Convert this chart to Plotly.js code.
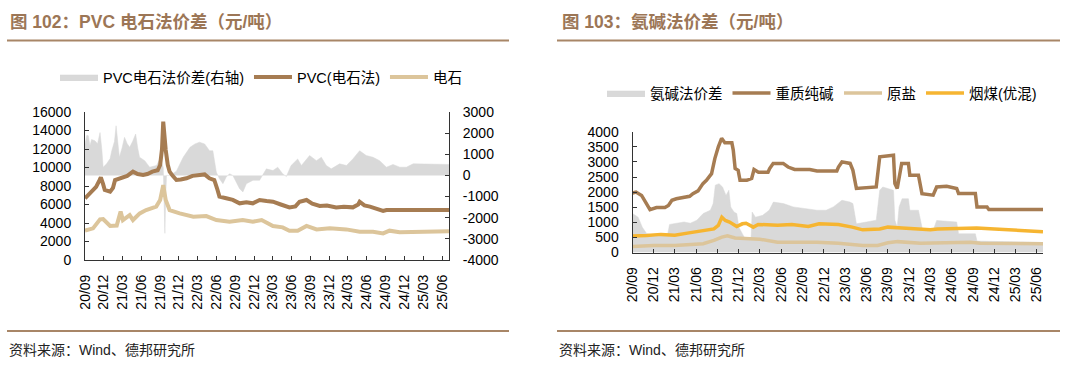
<!DOCTYPE html>
<html><head><meta charset="utf-8">
<script src="https://cdn.plot.ly/plotly-3.0.1.min.js"></script>
<style>html,body{margin:0;padding:0;background:#fff}#chart{width:1080px;height:377px}</style>
</head><body><div id="chart"></div>
<script>
// ---------- Figure 102 data ----------
const spreadDates = ['2020-09-01','2020-09-10','2020-09-17','2020-09-25','2020-10-03','2020-10-19','2020-11-01','2020-11-13','2020-11-22','2020-11-28','2020-12-15','2021-01-01','2021-01-09','2021-01-22','2021-01-30','2021-02-08','2021-02-15','2021-02-28','2021-03-12','2021-03-25','2021-04-06','2021-04-20','2021-05-05','2021-05-15','2021-05-24','2021-06-18','2021-07-12','2021-08-14','2021-08-31','2021-09-16','2021-09-20','2021-09-24','2021-09-28','2021-10-02','2021-10-18','2021-11-19','2021-12-22','2022-01-24','2022-02-17','2022-03-11','2022-04-05','2022-04-29','2022-05-15','2022-06-01','2022-06-16','2022-07-03','2022-07-19','2022-08-04','2022-08-20','2022-09-06','2022-09-22','2022-10-08','2022-10-25','2022-11-26','2022-12-28','2023-01-30','2023-03-03','2023-03-26','2023-04-19','2023-05-07','2023-05-30','2023-07-01','2023-07-19','2023-08-28','2023-09-30','2023-10-24','2023-11-17','2023-12-11','2024-01-21','2024-02-23','2024-03-25','2024-04-27','2024-05-29','2024-07-01','2024-08-02','2024-09-04','2024-10-06','2024-11-08','2024-12-10','2025-01-12','2025-07-05'];
const spreadValues = [1490,1900,1880,1400,1700,1640,1500,2030,1200,390,550,800,1170,1600,2350,1500,860,1300,1800,1500,1330,1600,1960,1300,860,700,390,470,780,390,-1500,-2740,-1000,0,0,200,860,1330,1490,1570,1490,1170,1170,150,-160,-390,-80,80,0,-310,-630,-780,-390,-230,-230,310,230,390,80,-50,470,780,470,940,700,860,470,310,550,470,780,1170,940,860,700,390,520,390,390,550,520];

const pvcDates = ['2020-09-01','2020-09-20','2020-10-10','2020-10-25','2020-11-10','2020-11-17','2020-11-28','2020-12-06','2021-01-01','2021-01-15','2021-01-25','2021-02-10','2021-03-04','2021-03-25','2021-04-22','2021-05-15','2021-06-10','2021-07-01','2021-07-25','2021-08-20','2021-09-01','2021-09-10','2021-09-16','2021-09-22','2021-09-28','2021-10-08','2021-10-17','2021-11-01','2021-11-19','2021-12-10','2022-01-07','2022-02-05','2022-03-10','2022-04-05','2022-04-28','2022-05-22','2022-06-05','2022-06-16','2022-07-19','2022-08-20','2022-09-22','2022-10-25','2022-11-25','2022-12-28','2023-01-31','2023-03-03','2023-04-10','2023-05-22','2023-06-20','2023-07-10','2023-08-13','2023-09-10','2023-10-16','2023-11-20','2024-01-04','2024-02-10','2024-03-25','2024-04-20','2024-04-27','2024-05-20','2024-06-16','2024-07-20','2024-08-19','2024-09-04','2025-07-05'];
const pvcValues = [6670,7100,7570,7900,8600,8940,8200,7570,7390,7800,8650,8800,9000,9100,9550,9300,9190,9300,9550,9700,10270,12000,14950,12800,11900,10300,9550,9100,8650,8700,8830,9100,9190,9250,8830,8650,7700,6850,6670,6500,6130,6250,6130,6490,6380,6300,6000,5690,5800,6300,6490,6100,5840,5900,5690,5750,5690,6000,6300,5900,5770,5550,5300,5400,5400];

const carbideDates = ['2020-09-01','2020-10-10','2020-11-13','2020-11-28','2021-01-01','2021-02-02','2021-02-21','2021-03-04','2021-04-06','2021-04-22','2021-05-25','2021-06-25','2021-08-13','2021-09-01','2021-09-16','2021-09-28','2021-10-17','2021-12-05','2022-02-09','2022-04-13','2022-06-01','2022-08-04','2022-10-07','2022-11-25','2023-01-07','2023-02-07','2023-03-03','2023-04-19','2023-05-22','2023-07-01','2023-08-13','2023-10-01','2023-12-04','2024-02-22','2024-04-27','2024-07-01','2024-08-19','2024-09-19','2024-11-07','2025-07-05'];
const carbideValues = [3170,3420,4400,4430,3680,3720,5230,4320,4860,4320,5040,5400,5770,6490,8100,6490,5400,5040,4680,4750,4320,4140,4320,4140,4320,3890,3680,3530,3170,3170,3680,3310,3420,3310,3060,3060,2880,3170,3000,3100];

// ---------- Figure 103 data ----------
const ammoniaSpreadDates = ['2020-09-01','2020-09-25','2020-10-13','2020-11-01','2020-12-16','2021-01-28','2021-02-07','2021-04-10','2021-05-07','2021-06-04','2021-07-01','2021-08-01','2021-08-13','2021-08-22','2021-09-07','2021-09-22','2021-10-07','2021-10-19','2021-10-27','2021-11-10','2021-11-22','2021-12-01','2021-12-28','2022-01-22','2022-01-27','2022-02-10','2022-03-13','2022-04-10','2022-04-28','2022-06-10','2022-07-22','2022-10-01','2022-11-01','2022-12-10','2023-01-10','2023-02-16','2023-03-22','2023-04-04','2023-04-19','2023-06-01','2023-07-13','2023-07-28','2023-08-10','2023-09-25','2023-10-01','2023-10-11','2023-10-19','2023-11-01','2023-11-28','2023-12-04','2024-01-10','2024-01-28','2024-03-13','2024-03-28','2024-06-22','2024-06-30','2024-09-10','2024-09-17','2025-06-27'];
const ammoniaSpreadValues = [1290,1170,840,620,550,550,930,1010,970,1070,1290,1400,1620,2230,2280,2170,1890,2060,1510,1340,1290,840,450,420,1340,1170,1230,1400,1670,1620,1510,1450,1400,1400,1510,1730,1670,1620,950,1010,1070,2060,2170,2060,1070,840,1510,1780,1780,1400,1400,730,730,1060,1010,620,620,380,330];

const sodaAshDates = ['2020-09-01','2020-09-16','2020-10-10','2020-11-01','2020-11-15','2020-12-13','2021-01-18','2021-02-02','2021-02-17','2021-03-08','2021-04-20','2021-05-04','2021-05-18','2021-06-09','2021-06-30','2021-07-15','2021-08-06','2021-08-20','2021-09-04','2021-09-18','2021-10-02','2021-11-01','2021-11-07','2021-11-15','2021-11-28','2021-12-06','2022-01-04','2022-01-25','2022-02-04','2022-02-23','2022-04-05','2022-04-12','2022-04-27','2022-06-09','2022-06-30','2022-07-28','2022-10-01','2022-11-01','2023-01-25','2023-02-01','2023-02-16','2023-03-23','2023-04-04','2023-04-19','2023-07-13','2023-07-28','2023-09-25','2023-10-01','2023-10-11','2023-10-30','2023-11-28','2023-12-04','2024-01-10','2024-01-25','2024-03-13','2024-03-28','2024-05-10','2024-06-22','2024-06-30','2024-09-10','2024-09-17','2024-10-30','2024-11-07','2025-06-27'];
const sodaAshValues = [1970,2000,1890,1620,1420,1490,1490,1560,1730,1780,1860,1860,1950,2040,2280,2390,2610,3110,3500,3780,3630,3630,3390,2780,2720,2390,2390,2450,2750,2660,2660,2780,2950,2950,2830,2750,2750,2700,2700,2830,3000,2950,2720,2120,2170,3170,3220,2280,2120,2950,2950,2560,2560,1950,1900,2170,2190,2120,1950,1950,1510,1510,1420,1420];

const saltDates = ['2020-09-01','2020-12-01','2021-03-01','2021-07-01','2021-08-16','2021-09-19','2021-10-13','2021-11-15','2022-03-01','2022-05-16','2022-11-01','2023-02-01','2023-05-16','2023-07-19','2023-09-01','2023-10-13','2024-01-19','2024-08-19','2024-10-01','2025-06-27'];
const saltValues = [200,230,230,290,400,510,550,480,440,340,340,310,230,230,320,360,310,340,310,290];

const coalDates = ['2020-09-01','2020-11-01','2021-01-01','2021-03-01','2021-05-01','2021-07-01','2021-08-16','2021-09-04','2021-09-19','2021-10-04','2021-10-22','2021-11-22','2021-12-16','2022-01-01','2022-02-01','2022-02-22','2022-05-16','2022-07-16','2022-09-25','2022-11-10','2023-02-01','2023-04-01','2023-05-16','2023-07-28','2023-09-01','2023-11-01','2024-03-01','2024-04-01','2024-09-16','2024-12-01','2025-06-27'];
const coalValues = [550,560,600,570,650,710,780,900,1170,1060,1010,860,950,970,840,930,900,930,860,950,930,840,750,780,840,810,750,780,810,780,690];

const leftTickVals = [0,2000,4000,6000,8000,10000,12000,14000,16000];
const rightTickVals = [-4000,-3000,-2000,-1000,0,1000,2000,3000];
const rightTickText = ['-4000','-3000','-2000','-1000','0','1000','2000','3000'];

// ---------- layout helpers ----------
const W = 1080, H = 377;
const px = x => x / W;
const py = y => 1 - y / H;
const FONT = 'Liberation Sans, Arial, Noto Sans CJK SC, sans-serif';
const BROWN = '#a67c52', TAN = '#dcc59b', YELLOW = '#f6b531', GRAY = '#d9d9d9';
const RULE = '#a88667', AXC = '#333333';

const baseAxis = {
  showline: true, linecolor: AXC, linewidth: 1, ticks: 'inside', ticklen: 4,
  tickcolor: AXC, showgrid: false, zeroline: false, tickfont: {size: 14, color: '#000'},
  tickformat: 'd', exponentformat: 'none'
};
const dateAxis = Object.assign({}, baseAxis, {
  type: 'date', dtick: 'M3', tick0: '2020-09-01', tickformat: '%y/%m', tickangle: -90,
  ticklabelstandoff: 8
});

const traces = [
  {x: spreadDates, y: spreadValues, type: 'scatter', mode: 'lines', fill: 'tozeroy',
   fillcolor: GRAY, line: {color: GRAY, width: 0.5}, name: 'PVC电石法价差(右轴)',
   xaxis: 'x', yaxis: 'y', legend: 'legend'},
  {x: pvcDates, y: pvcValues, type: 'scatter', mode: 'lines', line: {color: BROWN, width: 4},
   name: 'PVC(电石法)', xaxis: 'x', yaxis: 'y2', legend: 'legend'},
  {x: carbideDates, y: carbideValues, type: 'scatter', mode: 'lines', line: {color: TAN, width: 4},
   name: '电石', xaxis: 'x', yaxis: 'y2', legend: 'legend'},

  {x: ammoniaSpreadDates, y: ammoniaSpreadValues, type: 'scatter', mode: 'lines', fill: 'tozeroy',
   fillcolor: GRAY, line: {color: GRAY, width: 0.5}, name: '氨碱法价差',
   xaxis: 'x2', yaxis: 'y3', legend: 'legend2'},
  {x: sodaAshDates, y: sodaAshValues, type: 'scatter', mode: 'lines', line: {color: BROWN, width: 3.5},
   name: '重质纯碱', xaxis: 'x2', yaxis: 'y3', legend: 'legend2'},
  {x: saltDates, y: saltValues, type: 'scatter', mode: 'lines', line: {color: TAN, width: 3.5},
   name: '原盐', xaxis: 'x2', yaxis: 'y3', legend: 'legend2'},
  {x: coalDates, y: coalValues, type: 'scatter', mode: 'lines', line: {color: YELLOW, width: 3.5},
   name: '烟煤(优混)', xaxis: 'x2', yaxis: 'y3', legend: 'legend2'}
];

const legendBase = {orientation: 'h', xanchor: 'left', yanchor: 'middle', itemwidth: 38,
  font: {size: 14.5, color: '#000'}, bgcolor: 'rgba(0,0,0,0)', traceorder: 'normal'};

const layout = {
  width: W, height: H, margin: {l: 0, r: 0, t: 0, b: 0},
  paper_bgcolor: '#fff', plot_bgcolor: 'rgba(0,0,0,0)',
  font: {family: FONT, size: 14, color: '#000'},
  showlegend: true, hovermode: false,
  xaxis: Object.assign({}, dateAxis, {domain: [px(85), px(449)], anchor: 'y',
    range: ['2020-09-01', '2025-07-05']}),
  yaxis: Object.assign({}, baseAxis, {domain: [py(260), py(112)], anchor: 'x', side: 'right',
    range: [-4000, 3000], tickmode: 'array', tickvals: rightTickVals, ticktext: rightTickText,
    ticklabelstandoff: 10}),
  yaxis2: Object.assign({}, baseAxis, {overlaying: 'y', anchor: 'x', side: 'left',
    range: [0, 16000], tickmode: 'array', tickvals: leftTickVals, ticklabelstandoff: 10}),
  xaxis2: Object.assign({}, dateAxis, {domain: [px(632.5), px(1043)], anchor: 'y3',
    range: ['2020-09-01', '2025-06-27']}),
  yaxis3: Object.assign({}, baseAxis, {domain: [py(252.5), py(131.7)], anchor: 'x2',
    range: [0, 4000], dtick: 500, ticklabelstandoff: 10}),
  legend: Object.assign({}, legendBase, {x: px(55), y: py(77)}),
  legend2: Object.assign({}, legendBase, {x: px(602), y: py(93)}),
  shapes: [
    {type: 'line', xref: 'paper', yref: 'paper', x0: px(7), x1: px(509), y0: py(40.5), y1: py(40.5), line: {color: RULE, width: 2}},
    {type: 'line', xref: 'paper', yref: 'paper', x0: px(557), x1: px(1060), y0: py(40.5), y1: py(40.5), line: {color: RULE, width: 2}},
    {type: 'line', xref: 'paper', yref: 'paper', x0: px(7), x1: px(509), y0: py(331), y1: py(331), line: {color: RULE, width: 2}},
    {type: 'line', xref: 'paper', yref: 'paper', x0: px(557), x1: px(1060), y0: py(331), y1: py(331), line: {color: RULE, width: 2}}
  ],
  annotations: [
    {text: '图 102：PVC 电石法价差（元/吨）', xref: 'paper', yref: 'paper', x: px(8), y: py(22),
     xanchor: 'left', yanchor: 'middle', showarrow: false,
     font: {size: 17.5, color: '#9c7656', weight: 'bold'}},
    {text: '图 103：氨碱法价差（元/吨）', xref: 'paper', yref: 'paper', x: px(560), y: py(22),
     xanchor: 'left', yanchor: 'middle', showarrow: false,
     font: {size: 17.5, color: '#9c7656', weight: 'bold'}},
    {text: '资料来源：Wind、德邦研究所', xref: 'paper', yref: 'paper', x: px(7), y: py(350),
     xanchor: 'left', yanchor: 'middle', showarrow: false, font: {size: 14, color: '#222'}},
    {text: '资料来源：Wind、德邦研究所', xref: 'paper', yref: 'paper', x: px(557), y: py(350),
     xanchor: 'left', yanchor: 'middle', showarrow: false, font: {size: 14, color: '#222'}}
  ]
};

Plotly.newPlot('chart', traces, layout, {staticPlot: true, displayModeBar: false});
</script></body></html>
